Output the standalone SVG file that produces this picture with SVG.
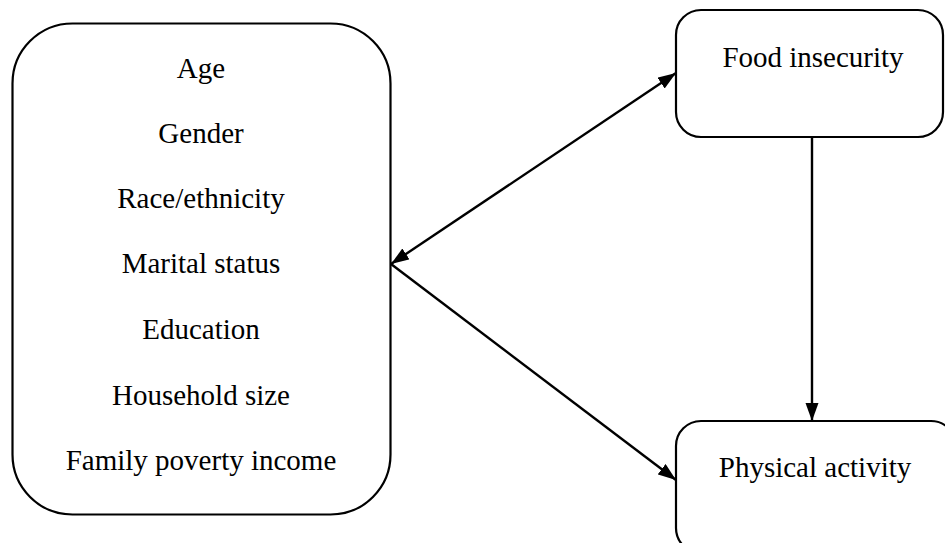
<svg xmlns="http://www.w3.org/2000/svg" width="945" height="543" viewBox="0 0 945 543">
<style>
.box{fill:#fff;stroke:#000;stroke-width:2.2}
.t{font-family:'Liberation Serif','DejaVu Serif',serif;font-size:29px;fill:#000;text-anchor:middle}
.c{stroke:#000;stroke-width:2.4;fill:none}
</style>
<defs>
<marker id="ah" markerUnits="userSpaceOnUse" markerWidth="20" markerHeight="14" refX="18" refY="6.5" orient="auto-start-reverse">
<path d="M0,0 L18,6.5 L0,13 Z" fill="#000"/>
</marker>
</defs>
<rect width="945" height="543" fill="#fff"/>
<g id="demographics">
<rect class="box" x="12.5" y="23.5" width="378" height="491" rx="60" ry="60"/>
<text class="t" x="201" y="78" font-family="Liberation Serif, serif">Age</text>
<text class="t" x="201" y="143" font-family="Liberation Serif, serif">Gender</text>
<text class="t" x="201" y="208" font-family="Liberation Serif, serif">Race/ethnicity</text>
<text class="t" x="201" y="273" font-family="Liberation Serif, serif">Marital status</text>
<text class="t" x="201" y="339" font-family="Liberation Serif, serif">Education</text>
<text class="t" x="201" y="405" font-family="Liberation Serif, serif">Household size</text>
<text class="t" x="201" y="470" font-family="Liberation Serif, serif">Family poverty income</text>
</g>
<g id="food-insecurity">
<rect class="box" x="676" y="10" width="267" height="127" rx="25" ry="25"/>
<text class="t" x="813" y="67" font-family="Liberation Serif, serif">Food insecurity</text>
</g>
<g id="physical-activity">
<rect class="box" x="676" y="421" width="280" height="132" rx="25" ry="25"/>
<text class="t" x="815" y="477" font-family="Liberation Serif, serif">Physical activity</text>
</g>
<g id="connectors">
<line class="c" x1="391" y1="264" x2="676" y2="73" marker-start="url(#ah)" marker-end="url(#ah)"/>
<line class="c" x1="391" y1="264" x2="676" y2="480" marker-end="url(#ah)"/>
<line class="c" x1="812" y1="137" x2="812" y2="421" marker-end="url(#ah)"/>
</g>
</svg>
